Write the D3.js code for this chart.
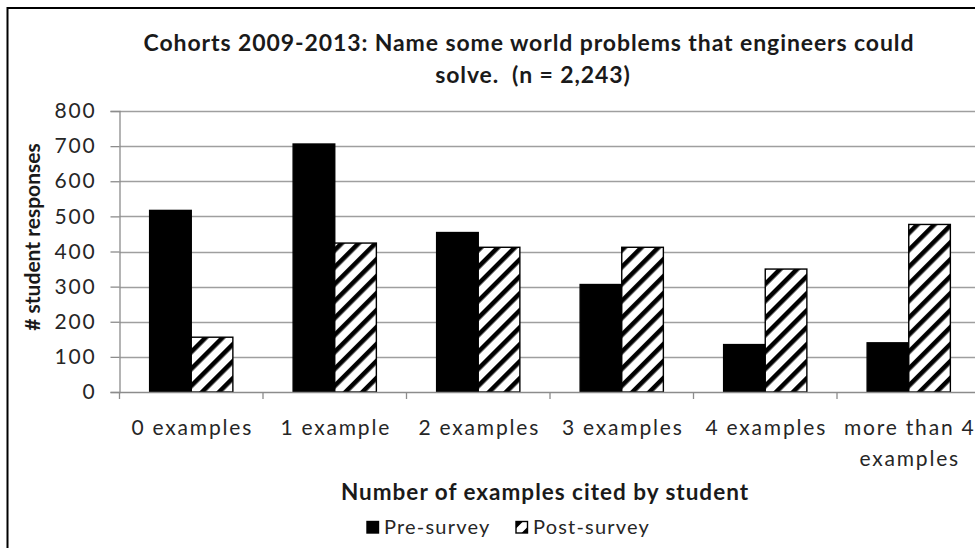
<!DOCTYPE html>
<html>
<head>
<meta charset="utf-8">
<script src="https://cdn.jsdelivr.net/npm/d3@7"></script>
<style>
  html, body { margin: 0; padding: 0; background: #fff; }
  svg { display: block; font-family: Lato, "Open Sans", sans-serif; }
</style>
</head>
<body>
<svg id="chart" width="975" height="548"></svg>
<script>
// Survey responses by number of examples cited
const categories = ["0 examples", "1 example", "2 examples", "3 examples", "4 examples", "more than 4 examples"];
const seriesNames = ["Pre-survey", "Post-survey"];
const preSurvey = [517, 706, 454, 306, 135, 140];
const postSurvey = [156, 424, 412, 412, 350, 477];
const yTicks = [0, 100, 200, 300, 400, 500, 600, 700, 800];

const svg = d3.select("#chart");
const W = 975, H = 548;
const textColor = "#262626";

// plot area
const plotLeft = 119.5, plotRight = 980.5, plotTop = 111, plotBottom = 392;

const x0 = d3.scaleBand().domain(categories).range([plotLeft, plotRight])
  .paddingInner(0.42).paddingOuter(0.21);
const x1 = d3.scaleBand().domain(seriesNames).range([0, x0.bandwidth()]);
const y = d3.scaleLinear().domain([0, 800]).range([plotBottom, plotTop]);

// diagonal hatch for the post-survey bars
const defs = svg.append("defs");
const pat = defs.append("pattern")
  .attr("id", "hatch").attr("patternUnits", "userSpaceOnUse")
  .attr("width", 12).attr("height", 12)
  .attr("patternTransform", "rotate(45)");
pat.append("rect").attr("width", 12).attr("height", 12).attr("fill", "#fff");
pat.append("rect").attr("x", 0).attr("y", 0).attr("width", 4.6).attr("height", 12).attr("fill", "#000");

// outer frame
svg.append("rect").attr("x", 7.5).attr("y", 8).attr("width", W + 20).attr("height", H + 20)
  .attr("fill", "#fff").attr("stroke", "#000").attr("stroke-width", 2);

// gridlines
svg.append("g").selectAll("line").data(yTicks.slice(1)).join("line")
  .attr("x1", plotLeft).attr("x2", plotRight)
  .attr("y1", d => Math.round(y(d)) + 0.5).attr("y2", d => Math.round(y(d)) + 0.5)
  .attr("stroke", "#9f9f9f").attr("stroke-width", 1.3);

// y axis
const yAxis = svg.append("g").attr("transform", `translate(${plotLeft},0)`)
  .call(d3.axisLeft(y).tickValues(yTicks).tickSize(9).tickPadding(14).tickFormat(d3.format("d")));
yAxis.select(".domain").attr("stroke", "#8c8c8c").attr("stroke-width", 1.3);
yAxis.selectAll(".tick line").attr("stroke", "#8c8c8c").attr("stroke-width", 1.3);
yAxis.selectAll(".tick text").attr("font-size", 21).attr("fill", textColor)
  .attr("font-family", "Lato, sans-serif").attr("letter-spacing", 1.8);

// bars
const data = categories.map((c, i) => ({ cat: c, vals: [preSurvey[i], postSurvey[i]] }));
const groups = svg.append("g").selectAll("g").data(data).join("g")
  .attr("transform", d => `translate(${x0(d.cat)},0)`);
groups.selectAll("rect")
  .data(d => d.vals.map((v, j) => ({ name: seriesNames[j], v })))
  .join("rect")
  .attr("x", d => x1(d.name))
  .attr("y", d => y(d.v))
  .attr("width", x1.bandwidth())
  .attr("height", d => y(0) - y(d.v))
  .attr("fill", d => d.name === "Pre-survey" ? "#000" : "url(#hatch)")
  .attr("stroke", "#000").attr("stroke-width", 1.4);

// x axis
const xb = svg.append("g").attr("transform", `translate(0,${plotBottom})`);
xb.append("line").attr("x1", plotLeft).attr("x2", plotRight).attr("y1", 0.5).attr("y2", 0.5)
  .attr("stroke", "#8c8c8c").attr("stroke-width", 1.3);
const step = x0.step();
xb.selectAll(".xt").data(d3.range(categories.length + 1)).join("line")
  .attr("class", "xt")
  .attr("x1", i => plotLeft + i * step).attr("x2", i => plotLeft + i * step)
  .attr("y1", 0).attr("y2", 7)
  .attr("stroke", "#8c8c8c").attr("stroke-width", 1.3);

// category labels (wrapped where long)
const labelLines = { "more than 4 examples": ["more than 4", "examples"] };
svg.append("g").selectAll("text").data(categories).join("text")
  .attr("x", d => x0(d) + x0.bandwidth() / 2)
  .attr("y", 435)
  .attr("text-anchor", "middle")
  .attr("font-size", 21).attr("fill", textColor).attr("letter-spacing", 1.8)
  .each(function(d) {
    const lines = labelLines[d] || [d];
    d3.select(this).selectAll("tspan").data(lines).join("tspan")
      .attr("x", x0(d) + x0.bandwidth() / 2 + 1)
      .attr("dy", (l, k) => k === 0 ? 0 : 31)
      .text(l => l);
  });

// title
const title = svg.append("text").attr("text-anchor", "middle")
  .attr("font-size", 23).attr("font-weight", "bold").attr("fill", "#1a1a1a")
  .attr("letter-spacing", 0.9);
title.append("tspan").attr("x", 529).attr("y", 51)
  .text("Cohorts 2009-2013: Name some world problems that engineers could");
title.append("tspan").attr("x", 533).attr("y", 83)
  .attr("xml:space", "preserve").text("solve.  (n = 2,243)");

// axis titles
svg.append("text").attr("x", 545).attr("y", 500).attr("text-anchor", "middle")
  .attr("font-size", 22.5).attr("font-weight", "bold").attr("fill", "#1a1a1a")
  .attr("letter-spacing", 1.0)
  .text("Number of examples cited by student");
svg.append("text")
  .attr("transform", "translate(40,237) rotate(-90)")
  .attr("text-anchor", "middle")
  .attr("font-size", 21).attr("font-weight", "bold").attr("fill", "#1a1a1a")
  .text("# student responses");

// legend
const legend = svg.append("g").attr("transform", "translate(0,527)");
const legendItems = [
  { name: seriesNames[0], x: 367 },
  { name: seriesNames[1], x: 516 }
];
const li = legend.selectAll("g").data(legendItems).join("g")
  .attr("transform", d => `translate(${d.x},0)`);
li.append("rect").attr("x", 0).attr("y", -5.5).attr("width", 11.5).attr("height", 11.5)
  .attr("fill", (d, i) => i === 0 ? "#000" : "#fff").attr("stroke", "#000").attr("stroke-width", 1.4);
// small hatch swatch: one diagonal stripe in the corner
li.filter((d, i) => i === 1).append("path")
  .attr("d", "M0,-5.5 H7 L0,1.5 Z M11.5,0 V6 H5.5 Z")
  .attr("fill", "#000");
li.append("text").attr("x", 17).attr("y", 7).attr("font-size", 20)
  .attr("fill", textColor).attr("letter-spacing", 1.2)
  .text(d => d.name);
</script>
</body>
</html>
